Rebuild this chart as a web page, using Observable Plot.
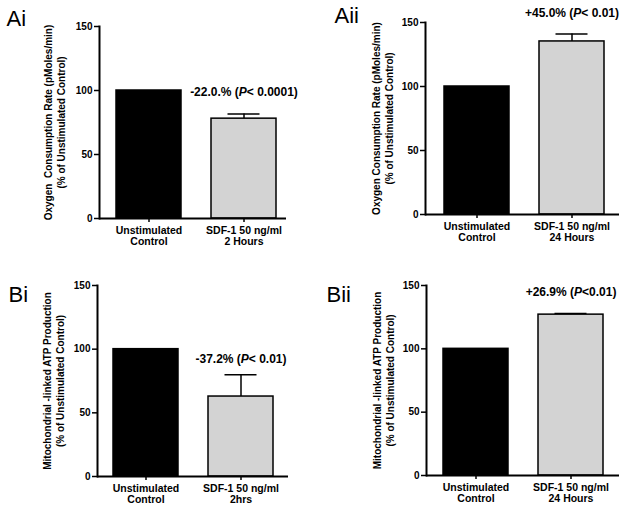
<!DOCTYPE html>
<html><head><meta charset="utf-8">
<script src="https://cdn.jsdelivr.net/npm/d3@7"></script>
<script src="https://cdn.jsdelivr.net/npm/@observablehq/plot@0.6"></script>
<style>
body{margin:0;background:#fff;}
#wrap{position:relative;width:626px;height:509px;overflow:hidden;background:#fff;}
#wrap > div{position:absolute;}
</style></head><body><div id="wrap"></div>
<script>
// ---- data ----
const panelLabels = ["Ai", "Aii", "Bi", "Bii"];
const controlLabel = "Unstimulated\nControl";
const treatedLabels = ["SDF-1 50 ng/ml\n2 Hours", "SDF-1 50 ng/ml\n24 Hours", "SDF-1 50 ng/ml\n2hrs", "SDF-1 50 ng/ml\n24 Hours"];
const controlValues = [100, 100, 100, 100];
const treatedValues = [78.0, 135.2, 62.8, 127.0];
const treatedErrors = [3.7, 5.8, 17.2, 0.8];
const annotationParts = [
  ["-22.0.% (", "P", "< 0.0001)"],
  ["+45.0% (", "P", "< 0.01)"],
  ["-37.2% (", "P", "< 0.01)"],
  ["+26.9% (", "P", "<0.01)"]
];
const yTitles = [
  "Oxygen  Consumption Rate (pMoles/min)\n(% of Unstimulated Control)",
  "Oxygen Consumption Rate (pMoles/min)\n(% of Unstimulated Control)",
  "Mitochondrial -linked ATP Production\n(% of Unstimulated Control)",
  "Mitochondrial -linked ATP Production\n(% of Unstimulated Control)"
];
const yTicks = [0, 50, 100, 150];

// ---- layout (per panel) ----
const layout = [
  {left: 0,   top: 0,   w: 313, h: 255, ml: 99,  mr: 27, mt: 26, mb: 37, xr: [116, 276], labDx: -93,  labDy: -1, titleDx: -45.5, annDy: -18},
  {left: 313, top: 0,   w: 313, h: 255, ml: 112, mr: 7,  mt: 22, mb: 41, xr: [130, 291], labDx: -91,  labDy: 0,  titleDx: -43,   annDy: -17},
  {left: 0,   top: 255, w: 313, h: 254, ml: 97,  mr: 25, mt: 30, mb: 33, xr: [113, 273], labDx: -89,  labDy: 16, titleDx: -44,   annDy: -12},
  {left: 313, top: 255, w: 313, h: 254, ml: 113, mr: 7,  mt: 30, mb: 34, xr: [130, 290], labDx: -100, labDy: 16, titleDx: -43.5, annDy: -18}
];

const FONT = "'Liberation Sans', Arial, Helvetica, sans-serif";
const wrap = document.getElementById("wrap");

panelLabels.forEach((lab, i) => {
  const L = layout[i];
  const control = [{cat: controlLabel, value: controlValues[i]}];
  const treated = [{cat: treatedLabels[i], value: treatedValues[i], err: treatedErrors[i]}];
  const annText = annotationParts[i].join("");

  const svg = Plot.plot({
    width: L.w, height: L.h,
    marginLeft: L.ml, marginRight: L.mr, marginTop: L.mt, marginBottom: L.mb,
    style: {fontFamily: FONT, color: "black", background: "white", overflow: "visible"},
    x: {type: "band", domain: [controlLabel, treatedLabels[i]], range: L.xr, paddingInner: 0.316, paddingOuter: 0, align: 0.5},
    y: {domain: [0, 150]},
    marks: [
      Plot.ruleX(treated, {x: "cat", y1: "value", y2: d => d.value + d.err, stroke: "black", strokeWidth: 1.5}),
      Plot.tickY(treated, {x: "cat", y: d => d.value + d.err, insetLeft: 16.5, insetRight: 16.5, stroke: "black", strokeWidth: 1.5}),
      Plot.barY(control, {x: "cat", y: "value", fill: "black", stroke: "black", strokeWidth: 1.5}),
      Plot.barY(treated, {x: "cat", y: "value", fill: "#d3d3d3", stroke: "black", strokeWidth: 1.5}),
      Plot.axisY({ticks: yTicks, tickSize: 5, tickPadding: 2, tickFormat: d => String(d), fontWeight: "bold", fontSize: 10, fill: "black", stroke: "black", strokeWidth: 1.5, label: null}),
      Plot.axisX({tickSize: 4, tickPadding: 3, fontWeight: "bold", fontSize: 10.5, lineHeight: 1.1, fill: "black", stroke: "black", strokeWidth: 1.5, label: null, tickFormat: d => d}),
      Plot.frame({anchor: "left", stroke: "black", strokeWidth: 2}),
      Plot.ruleY([0], {stroke: "black", strokeWidth: 2}),
      Plot.text(treated, {x: "cat", y: d => d.value + d.err, text: () => annText, dy: L.annDy, lineAnchor: "bottom", fontWeight: "bold", fontSize: 12, fill: "black"}),
      Plot.text([yTitles[i]], {frameAnchor: "left", text: d => d, rotate: -90, dx: L.titleDx, lineAnchor: "middle", textAnchor: "middle", fontWeight: "bold", fontSize: 10, lineHeight: 1.3, fill: "black"}),
      Plot.text([lab], {frameAnchor: "top-left", text: d => d, dx: L.labDx, dy: L.labDy, lineAnchor: "bottom", textAnchor: "start", fontSize: 22, fill: "black"})
    ]
  });

  // italic "P" inside the annotation
  svg.querySelectorAll("text").forEach(t => {
    if (t.textContent === annText) {
      t.textContent = "";
      annotationParts[i].forEach((part, k) => {
        const ts = document.createElementNS("http://www.w3.org/2000/svg", "tspan");
        ts.textContent = part;
        if (k === 1) ts.setAttribute("font-style", "italic");
        t.appendChild(ts);
      });
    }
  });

  const div = document.createElement("div");
  div.style.left = L.left + "px";
  div.style.top = L.top + "px";
  div.appendChild(svg);
  wrap.appendChild(div);
});
</script>
</body></html>
